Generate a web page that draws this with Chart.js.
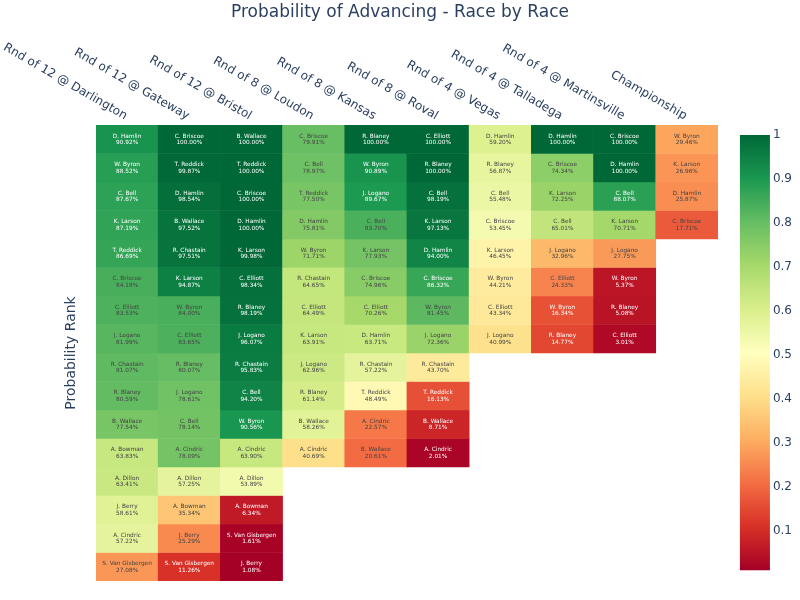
<!DOCTYPE html>
<html><head><meta charset="utf-8">
<script src="https://cdn.jsdelivr.net/npm/chart.js@4.4.1/dist/chart.umd.min.js"></script>
<style>html,body{margin:0;padding:0;background:#fff}</style>
</head><body>
<canvas id="c" width="800" height="600"></canvas>
<script>
const races = ["Rnd of 12 @ Darlington","Rnd of 12 @ Gateway","Rnd of 12 @ Bristol","Rnd of 8 @ Loudon","Rnd of 8 @ Kansas","Rnd of 8 @ Roval","Rnd of 4 @ Vegas","Rnd of 4 @ Talladega","Rnd of 4 @ Martinsville","Championship"];

const darlingtonDrivers = ["D. Hamlin","W. Byron","C. Bell","K. Larson","T. Reddick","C. Briscoe","C. Elliott","J. Logano","R. Chastain","R. Blaney","B. Wallace","A. Bowman","A. Dillon","J. Berry","A. Cindric","S. Van Gisbergen"];
const darlingtonProbs = [90.92,88.52,87.67,87.19,86.69,84.18,83.53,81.99,81.07,80.59,77.54,63.83,63.41,58.61,57.22,27.08];

const gatewayDrivers = ["C. Briscoe","T. Reddick","D. Hamlin","B. Wallace","R. Chastain","K. Larson","W. Byron","C. Elliott","R. Blaney","J. Logano","C. Bell","A. Cindric","A. Dillon","A. Bowman","J. Berry","S. Van Gisbergen"];
const gatewayProbs = [100.00,99.87,98.54,97.52,97.51,94.87,84.00,83.65,80.07,78.61,78.14,78.09,57.25,35.34,25.29,11.26];

const bristolDrivers = ["B. Wallace","T. Reddick","C. Briscoe","D. Hamlin","K. Larson","C. Elliott","R. Blaney","J. Logano","R. Chastain","C. Bell","W. Byron","A. Cindric","A. Dillon","A. Bowman","S. Van Gisbergen","J. Berry"];
const bristolProbs = [100.00,100.00,100.00,100.00,99.98,98.34,98.19,96.07,95.83,94.20,90.56,63.90,53.89,6.34,1.61,1.08];

const loudonDrivers = ["C. Briscoe","C. Bell","T. Reddick","D. Hamlin","W. Byron","R. Chastain","C. Elliott","K. Larson","J. Logano","R. Blaney","B. Wallace","A. Cindric"];
const loudonProbs = [79.91,78.97,77.50,75.81,71.71,64.65,64.49,63.91,62.96,61.14,58.26,40.69];

const kansasDrivers = ["R. Blaney","W. Byron","J. Logano","C. Bell","K. Larson","C. Briscoe","C. Elliott","D. Hamlin","R. Chastain","T. Reddick","A. Cindric","B. Wallace"];
const kansasProbs = [100.00,90.89,89.67,83.70,77.93,74.96,70.26,63.71,57.22,48.49,22.57,20.61];

const rovalDrivers = ["C. Elliott","R. Blaney","C. Bell","K. Larson","D. Hamlin","C. Briscoe","W. Byron","J. Logano","R. Chastain","T. Reddick","B. Wallace","A. Cindric"];
const rovalProbs = [100.00,100.00,98.19,97.13,94.00,86.32,81.45,72.36,43.70,16.13,8.71,2.01];

const vegasDrivers = ["D. Hamlin","R. Blaney","C. Bell","C. Briscoe","K. Larson","W. Byron","C. Elliott","J. Logano"];
const vegasProbs = [59.20,56.87,55.48,53.45,46.45,44.21,43.34,40.99];

const talladegaDrivers = ["D. Hamlin","C. Briscoe","K. Larson","C. Bell","J. Logano","C. Elliott","W. Byron","R. Blaney"];
const talladegaProbs = [100.00,74.34,72.25,65.01,32.96,24.33,16.34,14.77];

const martinsvilleDrivers = ["C. Briscoe","D. Hamlin","C. Bell","K. Larson","J. Logano","W. Byron","R. Blaney","C. Elliott"];
const martinsvilleProbs = [100.00,100.00,88.07,70.71,27.75,5.37,5.08,3.01];

const championshipDrivers = ["W. Byron","K. Larson","D. Hamlin","C. Briscoe"];
const championshipProbs = [29.46,26.96,25.87,17.71];

const colorbarTicks = [0.1,0.2,0.3,0.4,0.5,0.6,0.7,0.8,0.9,1];

const columns = [
  [darlingtonDrivers, darlingtonProbs],
  [gatewayDrivers, gatewayProbs],
  [bristolDrivers, bristolProbs],
  [loudonDrivers, loudonProbs],
  [kansasDrivers, kansasProbs],
  [rovalDrivers, rovalProbs],
  [vegasDrivers, vegasProbs],
  [talladegaDrivers, talladegaProbs],
  [martinsvilleDrivers, martinsvilleProbs],
  [championshipDrivers, championshipProbs]
];

const FONT = '"DejaVu Sans", Verdana, sans-serif';
const RdYlGn = [[165,0,38],[215,48,39],[244,109,67],[253,174,97],[254,224,139],[255,255,191],[217,239,139],[166,217,106],[102,189,99],[26,152,80],[0,104,55]];
const allProbs = columns.flatMap(c => c[1]).map(v => v/100);
const zmin = Math.min(...allProbs), zmax = Math.max(...allProbs);
function colorFor(v){
  let t = (v - zmin)/(zmax - zmin);
  t = Math.max(0, Math.min(1, t));
  const p = t*10, i = Math.min(9, Math.floor(p)), f = p - i;
  const a = RdYlGn[i], b = RdYlGn[i+1];
  return `rgb(${Math.round(a[0]+(b[0]-a[0])*f)},${Math.round(a[1]+(b[1]-a[1])*f)},${Math.round(a[2]+(b[2]-a[2])*f)})`;
}

const nRows = Math.max(...columns.map(c => c[1].length));
const datasets = [];
for (let r = 0; r < nRows; r++) {
  datasets.push({
    data: columns.map(c => r < c[1].length ? [r, r+1] : null),
    backgroundColor: columns.map(c => r < c[1].length ? colorFor(c[1][r]/100) : 'rgba(0,0,0,0)'),
    names: columns.map(c => r < c[0].length ? c[0][r] : ''),
    probs: columns.map(c => r < c[1].length ? c[1][r] : null),
    yAxisID: 'y',
    grouped: false,
    barPercentage: 1,
    categoryPercentage: 1,
    borderWidth: 0
  });
}

const cellText = {
  id: 'cellText',
  afterDatasetsDraw(chart) {
    const ctx = chart.ctx;
    ctx.save();
    ctx.font = '5.8px ' + FONT;
    ctx.textAlign = 'center';
    ctx.textBaseline = 'middle';
    chart.data.datasets.forEach((ds, di) => {
      const meta = chart.getDatasetMeta(di);
      meta.data.forEach((el, i) => {
        const p = ds.probs[i];
        if (p === null) return;
        const v = p/100;
        ctx.fillStyle = (v >= 0.85 || v <= 0.17) ? '#ffffff' : '#444444';
        const cy = (el.y + el.base)/2;
        ctx.fillText(ds.names[i], el.x, cy - 3.2);
        ctx.fillText(p.toFixed(2) + '%', el.x, cy + 3.4);
      });
    });
    ctx.restore();
  }
};

const topLabels = {
  id: 'topLabels',
  afterDraw(chart) {
    const ctx = chart.ctx, xs = chart.scales.x, top = chart.chartArea.top;
    ctx.save();
    ctx.font = '12px ' + FONT;
    ctx.fillStyle = '#2a3f5f';
    ctx.textAlign = 'right';
    ctx.textBaseline = 'middle';
    chart.data.labels.forEach((lab, i) => {
      const cx = xs.getPixelForValue(i);
      ctx.save();
      ctx.translate(cx - 1, top - 8);
      ctx.rotate(30*Math.PI/180);
      ctx.fillText(lab, 0, 0);
      ctx.restore();
    });
    ctx.restore();
  }
};

const colorbar = {
  id: 'colorbar',
  afterDraw(chart) {
    const ctx = chart.ctx, cb = chart.scales.cb, right = chart.chartArea.right;
    const yTop = cb.getPixelForValue(zmax), yBot = cb.getPixelForValue(zmin);
    const g = ctx.createLinearGradient(0, yBot, 0, yTop);
    RdYlGn.forEach((c, i) => g.addColorStop(i/10, `rgb(${c[0]},${c[1]},${c[2]})`));
    ctx.save();
    ctx.fillStyle = g;
    ctx.fillRect(right + 22, yTop, 30, yBot - yTop);
    ctx.restore();
  }
};

new Chart(document.getElementById('c'), {
  type: 'bar',
  data: { labels: races, datasets },
  options: {
    responsive: false,
    animation: false,
    layout: { padding: { left: 5, right: 5, top: 0, bottom: 19 } },
    plugins: {
      legend: { display: false },
      tooltip: { enabled: false },
      title: {
        display: true,
        text: 'Probability of Advancing - Race by Race',
        color: '#2a3f5f',
        font: { family: FONT, size: 17, weight: 'normal' },
        padding: { top: 2, bottom: 102.6 }
      }
    },
    scales: {
      x: {
        type: 'category',
        position: 'top',
        ticks: { display: false },
        grid: { display: false, drawTicks: false },
        border: { display: false }
      },
      y: {
        type: 'linear',
        min: 0, max: nRows,
        reverse: true,
        ticks: { display: false },
        grid: { display: false, drawTicks: false },
        border: { display: false },
        title: {
          display: true,
          text: 'Probability Rank',
          color: '#2a3f5f',
          font: { family: FONT, size: 14 },
          padding: { top: 57.6, bottom: 16.6 }
        }
      },
      cb: {
        type: 'linear',
        position: 'right',
        min: -0.0136, max: 1.0227,
        afterBuildTicks: (axis) => { axis.ticks = colorbarTicks.map(v => ({ value: v })); },
        ticks: {
          padding: 3,
          color: '#2a3f5f',
          font: { family: FONT, size: 12 },
          callback: (v) => String(+Number(v).toFixed(1))
        },
        grid: { display: false, drawTicks: true, tickLength: 52 },
        border: { display: false }
      }
    }
  },
  plugins: [cellText, topLabels, colorbar]
});
</script>
</body></html>
